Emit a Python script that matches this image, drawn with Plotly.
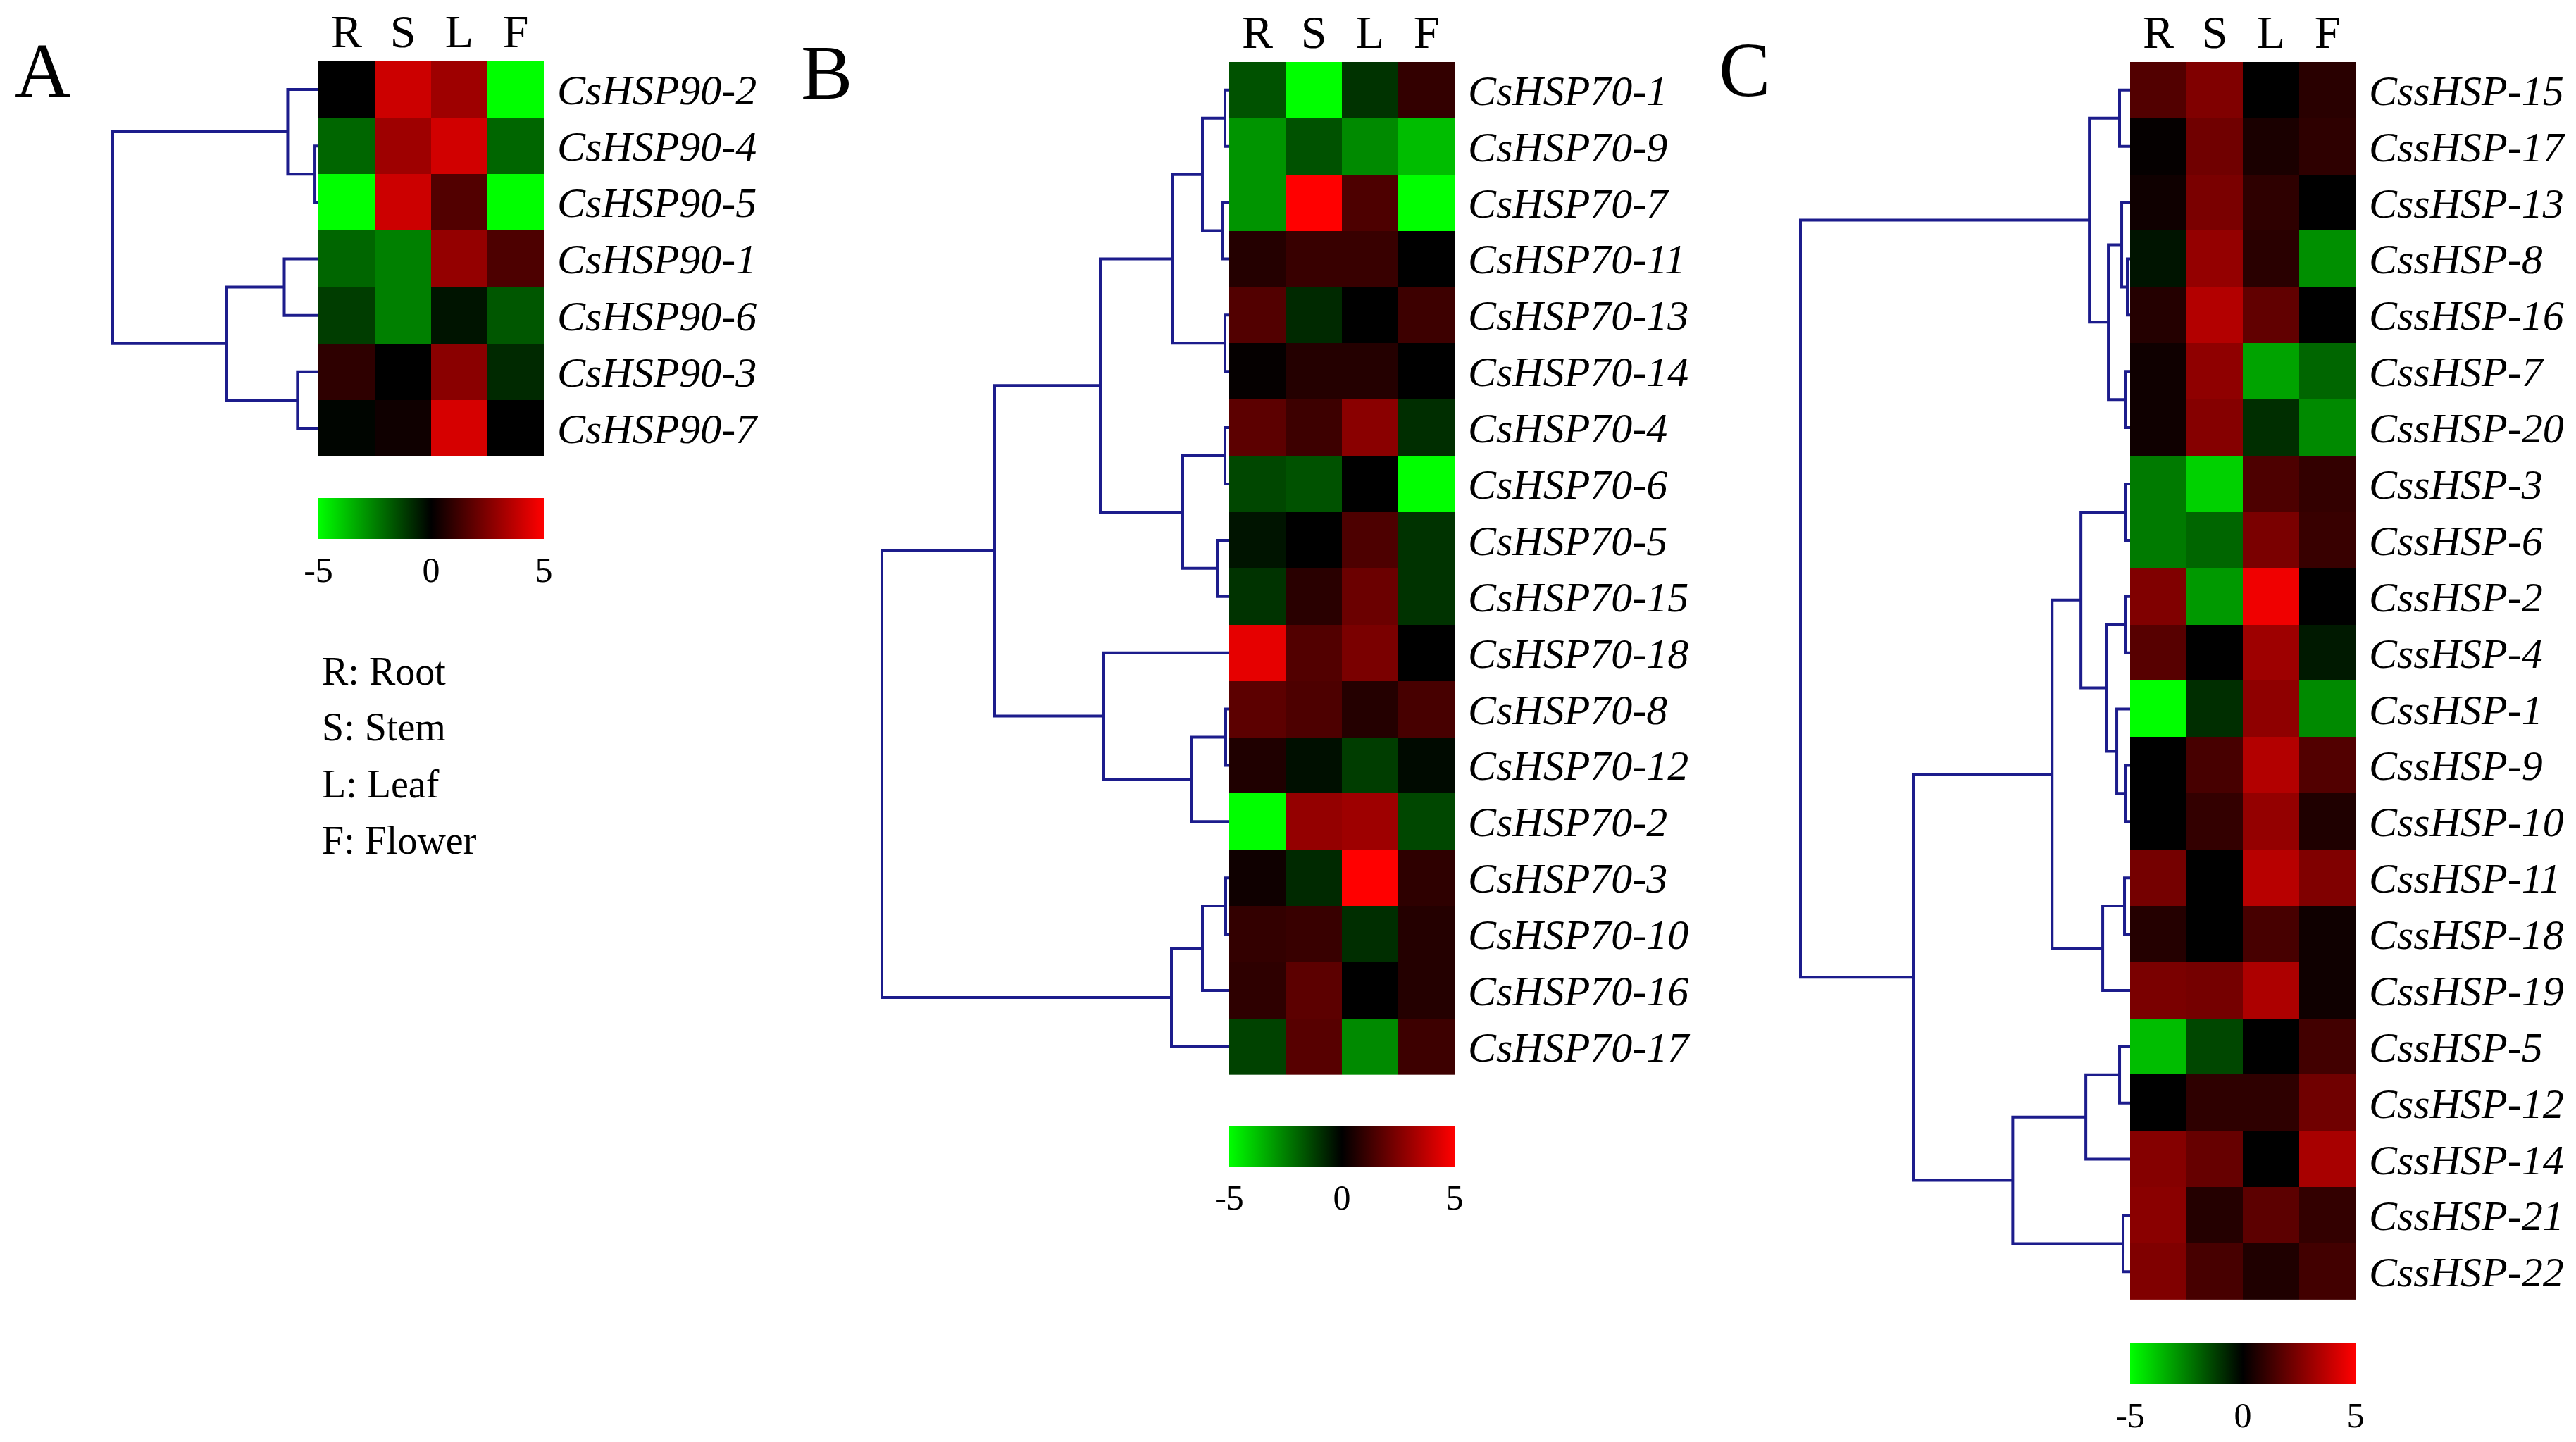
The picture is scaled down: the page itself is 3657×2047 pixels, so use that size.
import plotly.graph_objects as go

PAGE_W, PAGE_H = 3657, 2047
BODY_MARGIN = 8  # default browser body margin around the plot div
W, H = PAGE_W - 2 * BODY_MARGIN, PAGE_H - 2 * BODY_MARGIN

tissues = ["R", "S", "L", "F"]

# ---------------- Panel A data ----------------
genes_a = ["CsHSP90-2", "CsHSP90-4", "CsHSP90-5", "CsHSP90-1", "CsHSP90-6", "CsHSP90-3", "CsHSP90-7"]
expr_a = [
    [0.0, 4.0, 3.1, -5.0],
    [-2.0, 3.1, 4.1, -2.0],
    [-5.0, 4.0, 1.6, -5.0],
    [-2.0, -2.5, 2.9, 1.5],
    [-1.2, -2.5, -0.4, -1.7],
    [0.9, 0.0, 2.7, -0.8],
    [-0.1, 0.3, 4.2, 0.0],
]
# linkage (child_a, child_b, height); leaves 0..n-1, merged clusters n, n+1, ...
link_a = [(1, 2, 5), (0, 7, 44), (3, 4, 49), (5, 6, 30), (9, 10, 132), (8, 11, 295)]

# ---------------- Panel B data ----------------
genes_b = ["CsHSP70-1", "CsHSP70-9", "CsHSP70-7", "CsHSP70-11", "CsHSP70-13", "CsHSP70-14",
           "CsHSP70-4", "CsHSP70-6", "CsHSP70-5", "CsHSP70-15", "CsHSP70-18", "CsHSP70-8",
           "CsHSP70-12", "CsHSP70-2", "CsHSP70-3", "CsHSP70-10", "CsHSP70-16", "CsHSP70-17"]
expr_b = [
    [-1.6, -5.0, -1.0, 1.0],
    [-2.9, -1.6, -2.7, -3.7],
    [-2.9, 5.0, 1.5, -5.0],
    [0.7, 1.1, 1.1, 0.0],
    [1.6, -0.8, 0.0, 1.2],
    [0.1, 0.7, 0.7, 0.0],
    [1.8, 1.2, 2.7, -0.9],
    [-1.4, -1.6, 0.0, -5.0],
    [-0.4, 0.0, 1.5, -1.0],
    [-1.0, 0.8, 2.1, -1.0],
    [4.5, 1.6, 2.4, 0.0],
    [1.8, 1.5, 0.7, 1.4],
    [0.6, -0.3, -1.2, -0.2],
    [-5.0, 2.9, 3.1, -1.4],
    [0.3, -0.8, 5.0, 0.9],
    [1.0, 1.1, -0.9, 0.7],
    [0.9, 1.8, 0.0, 0.7],
    [-1.3, 1.7, -2.7, 1.2],
]
link_b = [(0, 1, 6), (2, 3, 9), (18, 19, 38), (4, 5, 6), (20, 21, 81), (6, 7, 6), (8, 9, 17),
          (23, 24, 66), (22, 25, 183), (11, 12, 5), (27, 13, 54), (10, 28, 178), (26, 29, 333),
          (14, 15, 5), (31, 16, 38), (32, 17, 82), (30, 33, 493)]

# ---------------- Panel C data ----------------
genes_c = ["CssHSP-15", "CssHSP-17", "CssHSP-13", "CssHSP-8", "CssHSP-16", "CssHSP-7", "CssHSP-20",
           "CssHSP-3", "CssHSP-6", "CssHSP-2", "CssHSP-4", "CssHSP-1", "CssHSP-9", "CssHSP-10",
           "CssHSP-11", "CssHSP-18", "CssHSP-19", "CssHSP-5", "CssHSP-12", "CssHSP-14",
           "CssHSP-21", "CssHSP-22"]
expr_c = [
    [1.6, 2.5, 0.0, 0.8],
    [0.1, 2.2, 0.5, 0.9],
    [0.3, 2.4, 0.9, 0.0],
    [-0.4, 2.9, 0.8, -2.8],
    [0.7, 3.5, 1.9, 0.0],
    [0.3, 2.8, -3.2, -2.0],
    [0.3, 2.6, -0.9, -2.7],
    [-2.4, -4.1, 1.5, 1.0],
    [-2.4, -2.0, 2.4, 1.1],
    [2.5, -3.0, 4.7, 0.0],
    [1.7, 0.0, 3.1, -0.5],
    [-5.0, -0.9, 2.8, -2.7],
    [0.0, 1.4, 3.5, 1.6],
    [0.0, 1.0, 2.9, 0.6],
    [2.3, 0.0, 3.6, 2.5],
    [0.7, 0.0, 1.4, 0.3],
    [2.4, 2.3, 3.4, 0.3],
    [-3.7, -1.4, 0.0, 1.3],
    [0.0, 0.9, 0.9, 2.2],
    [2.6, 2.0, 0.0, 3.3],
    [2.7, 0.7, 1.8, 1.0],
    [2.5, 1.4, 0.6, 1.3],
]
link_c = [(0, 1, 15), (3, 4, 4), (2, 23, 12), (5, 6, 6), (24, 25, 31), (22, 26, 58),
          (7, 8, 6), (9, 10, 6), (12, 13, 6), (11, 30, 19), (29, 31, 34), (28, 32, 70),
          (14, 15, 8), (34, 16, 39), (33, 35, 111), (17, 18, 15), (37, 19, 63),
          (20, 21, 10), (38, 39, 167), (36, 40, 308), (27, 41, 469)]

colorbar_ticks = [-5, 0, 5]
tissue_legend = ["R: Root", "S: Stem", "L: Leaf", "F: Flower"]

# ---------------- layout geometry (page pixels) ----------------
panels = [
    dict(letter="A", genes=genes_a, z=expr_a, link=link_a,
         hm=(452, 772, 84, 646), root_px=160, cb_top=705, letter_pos=(60, 97)),
    dict(letter="B", genes=genes_b, z=expr_b, link=link_b,
         hm=(1745, 2065, 85, 1525), root_px=1252, cb_top=1597, letter_pos=(1173, 100)),
    dict(letter="C", genes=genes_c, z=expr_c, link=link_c,
         hm=(3024, 3344, 85, 1845), root_px=2556, cb_top=1907, letter_pos=(2476, 96)),
]

SERIF = "Liberation Serif"
LINE_COLOR = "rgb(28,28,140)"
colorscale = [[0.0, "rgb(0,255,0)"], [0.5, "rgb(0,0,0)"], [1.0, "rgb(255,0,0)"]]


def fx(px):
    return (px - BODY_MARGIN) / W


def fy(py):
    return 1 - (py - BODY_MARGIN) / H


def dendro_lines(n, link):
    pos = {i: (float(i), 0.0) for i in range(n)}
    xs, ys = [], []
    for k, (a, b, h) in enumerate(link):
        ya, ha = pos[a]
        yb, hb = pos[b]
        xs += [ha, h, h, hb, None]
        ys += [ya, ya, yb, yb, None]
        pos[n + k] = ((ya + yb) / 2.0, float(h))
    return xs, ys


fig = go.Figure()
layout = {}
annotations = []

for i, p in enumerate(panels):
    idx = i + 1
    xa_hm = f"x{2 * idx - 1}"
    xa_dn = f"x{2 * idx}"
    ya = f"y{idx}"
    x0, x1, y0, y1 = p["hm"]
    n = len(p["genes"])

    fig.add_trace(go.Heatmap(
        z=p["z"], x=tissues, y=list(range(n)),
        colorscale=colorscale, zmin=-5, zmax=5,
        xaxis=xa_hm, yaxis=ya, showscale=True,
        colorbar=dict(
            orientation="h", x=(fx(x0) + fx(x1)) / 2, xanchor="center",
            y=fy(p["cb_top"]), yanchor="top",
            len=x1 - x0, lenmode="pixels", thickness=58, thicknessmode="pixels",
            outlinewidth=0, xpad=0, ypad=0,
            tickvals=colorbar_ticks, ticktext=[str(t) for t in colorbar_ticks],
            ticks="", tickfont=dict(family=SERIF, size=50, color="black"),
        ),
    ))

    xs, ys = dendro_lines(n, p["link"])
    root_h = max(h for _, _, h in p["link"])
    pad_px = 12
    scale = root_h / (x0 - p["root_px"])
    fig.add_trace(go.Scatter(
        x=xs, y=ys, mode="lines", xaxis=xa_dn, yaxis=ya,
        line=dict(color=LINE_COLOR, width=4), hoverinfo="skip", showlegend=False,
    ))

    xkey_hm = "xaxis" if 2 * idx - 1 == 1 else f"xaxis{2 * idx - 1}"
    xkey_dn = f"xaxis{2 * idx}"
    ykey = "yaxis" if idx == 1 else f"yaxis{idx}"

    layout[xkey_hm] = dict(
        domain=[fx(x0), fx(x1)], anchor=ya, side="top", showgrid=False, zeroline=False,
        showline=False, ticks="", tickfont=dict(family=SERIF, size=66, color="black"),
        ticklabelstandoff=6, fixedrange=True,
    )
    layout[xkey_dn] = dict(
        domain=[fx(p["root_px"] - pad_px), fx(x0)], anchor=ya,
        range=[root_h + pad_px * scale, 0], visible=False, fixedrange=True,
    )
    layout[ykey] = dict(
        domain=[fy(y1), fy(y0)], anchor=xa_hm, side="right",
        range=[n - 0.5, -0.5], showgrid=False, zeroline=False, showline=False,
        tickmode="array", tickvals=list(range(n)), ticktext=p["genes"], ticks="",
        tickfont=dict(family=SERIF, size=60, color="black", style="italic"),
        ticklabelstandoff=18, fixedrange=True,
    )

    lx, ly = p["letter_pos"]
    annotations.append(dict(
        text=p["letter"], x=fx(lx), y=fy(ly), xref="paper", yref="paper",
        xanchor="center", yanchor="middle", showarrow=False,
        font=dict(family=SERIF, size=110, color="black"),
    ))

legend_y = [951, 1031, 1112, 1192]
for t, yy in zip(tissue_legend, legend_y):
    annotations.append(dict(
        text=t, x=fx(455), y=fy(yy), xref="paper", yref="paper",
        xanchor="left", yanchor="middle", showarrow=False,
        font=dict(family=SERIF, size=56, color="black"),
    ))

fig.update_layout(
    width=W, height=H, margin=dict(l=0, r=0, t=0, b=0),
    paper_bgcolor="white", plot_bgcolor="white",
    showlegend=False, annotations=annotations, **layout,
)

fig.write_html("out.html")
